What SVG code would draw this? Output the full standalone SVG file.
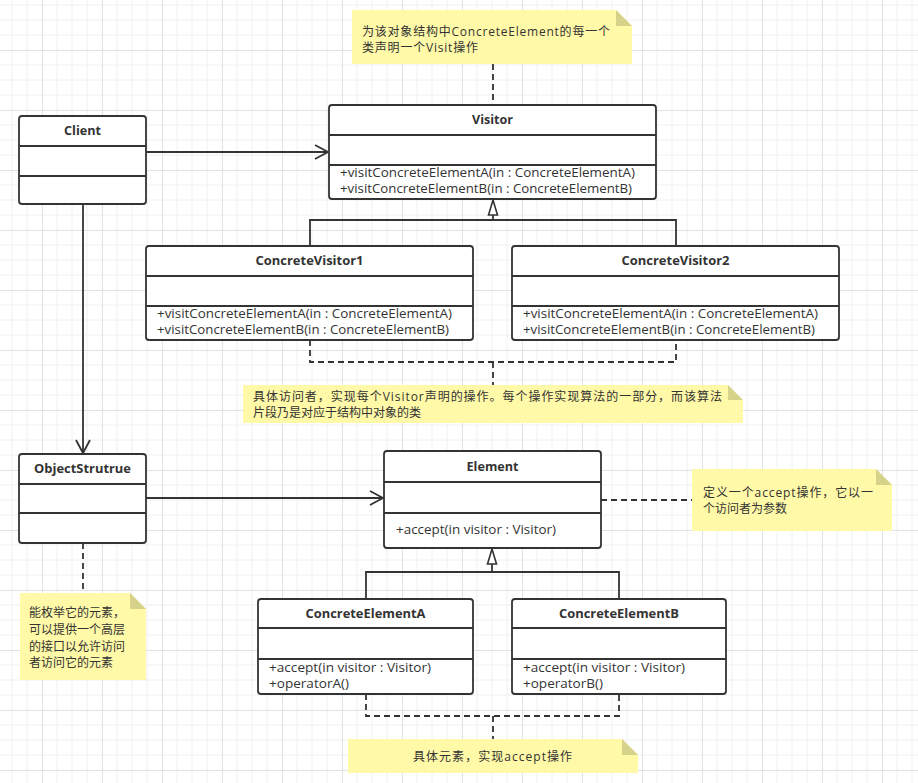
<svg xmlns="http://www.w3.org/2000/svg" width="918" height="783" viewBox="0 0 918 783">
<defs>
<pattern id="grid" x="42" y="50" width="60" height="60" patternUnits="userSpaceOnUse">
<path d="M15 0V60M30 0V60M45 0V60M0 15H60M0 30H60M0 45H60" stroke="#f0f0f0" stroke-width="1" fill="none"/>
<path d="M0.5 0V60M0 0.5H60" stroke="#e2e2e2" stroke-width="1" fill="none"/>
</pattern>
<marker id="open" markerUnits="userSpaceOnUse" markerWidth="16" markerHeight="16" viewBox="0 0 16 16" refX="14" refY="8" orient="auto">
<path d="M1 1L14 8L1 15" fill="none" stroke="#333" stroke-width="1.8"/>
</marker>
<marker id="tri" markerUnits="userSpaceOnUse" markerWidth="18" markerHeight="12" viewBox="0 0 18 12" refX="16" refY="6" orient="auto">
<path d="M1 1.5L16 6L1 10.5Z" fill="#fff" stroke="#333" stroke-width="1.6"/>
</marker>
</defs>
<style>
.box{fill:#fff;stroke:#333;stroke-width:1.8}
.div{stroke:#333;stroke-width:1.8}
.t{font-family:"Open Sans","Noto Sans","Noto Sans CJK SC",sans-serif;font-size:12px;fill:#333}
.b{font-weight:bold;text-anchor:middle;font-size:13px}
.c{font-family:"Open Sans","Noto Sans","Noto Sans CJK SC",sans-serif;font-size:12px;fill:#333}
.note{fill:#fff9a8}
.fold{fill:#d6d28a}
.ln{fill:none;stroke:#333;stroke-width:1.8}
.dash{fill:none;stroke:#333;stroke-width:1.8;stroke-dasharray:6 4}
</style>
<rect width="918" height="783" fill="#fff"/>
<rect width="918" height="783" fill="url(#grid)"/>

<g id="connectors">
<path class="ln" d="M146 152H328" marker-end="url(#open)"/>
<path class="ln" d="M83 204V453" marker-end="url(#open)"/>
<path class="ln" d="M146 498H383" marker-end="url(#open)"/>
<path class="ln" d="M310 246V220H676V246"/>
<path class="ln" d="M493 220V200" marker-end="url(#tri)"/>
<path class="ln" d="M366 599V572H619V599"/>
<path class="ln" d="M492 572V549" marker-end="url(#tri)"/>
<path class="dash" d="M493 64V105"/>
<path class="dash" d="M310 340V362H676V340"/>
<path class="dash" d="M493 362V385"/>
<path class="dash" d="M601 500H692"/>
<path class="dash" d="M83 543V593"/>
<path class="dash" d="M366 694V716H619V694"/>
<path class="dash" d="M493 716V739"/>
</g>

<g id="Client">
<rect class="box" x="19" y="116" width="127" height="88" rx="3"/>
<path class="div" d="M19 146H146M19 176H146"/>
<text class="t b" x="82.5" y="135" textLength="37" lengthAdjust="spacingAndGlyphs">Client</text>
</g>

<g id="Visitor">
<rect class="box" x="329" y="105" width="327" height="94" rx="3"/>
<path class="div" d="M329 135H656M329 165H656"/>
<text class="t b" x="492.5" y="124" textLength="41" lengthAdjust="spacingAndGlyphs">Visitor</text>
<text class="t" x="340" y="177" textLength="295" lengthAdjust="spacingAndGlyphs">+visitConcreteElementA(in : ConcreteElementA)</text>
<text class="t" x="340" y="193" textLength="292" lengthAdjust="spacingAndGlyphs">+visitConcreteElementB(in : ConcreteElementB)</text>
</g>

<g id="ConcreteVisitor1">
<rect class="box" x="146" y="246" width="327" height="94" rx="3"/>
<path class="div" d="M146 276H473M146 306H473"/>
<text class="t b" x="309.5" y="265" textLength="108" lengthAdjust="spacingAndGlyphs">ConcreteVisitor1</text>
<text class="t" x="157" y="318" textLength="295" lengthAdjust="spacingAndGlyphs">+visitConcreteElementA(in : ConcreteElementA)</text>
<text class="t" x="157" y="334" textLength="292" lengthAdjust="spacingAndGlyphs">+visitConcreteElementB(in : ConcreteElementB)</text>
</g>

<g id="ConcreteVisitor2">
<rect class="box" x="512" y="246" width="327" height="94" rx="3"/>
<path class="div" d="M512 276H839M512 306H839"/>
<text class="t b" x="675.5" y="265" textLength="108" lengthAdjust="spacingAndGlyphs">ConcreteVisitor2</text>
<text class="t" x="523" y="318" textLength="295" lengthAdjust="spacingAndGlyphs">+visitConcreteElementA(in : ConcreteElementA)</text>
<text class="t" x="523" y="334" textLength="292" lengthAdjust="spacingAndGlyphs">+visitConcreteElementB(in : ConcreteElementB)</text>
</g>

<g id="ObjectStrutrue">
<rect class="box" x="19" y="454" width="127" height="89" rx="3"/>
<path class="div" d="M19 484H146M19 513H146"/>
<text class="t b" x="82.5" y="473" textLength="97" lengthAdjust="spacingAndGlyphs">ObjectStrutrue</text>
</g>

<g id="Element">
<rect class="box" x="384" y="451" width="217" height="97" rx="3"/>
<path class="div" d="M384 482H601M384 513H601"/>
<text class="t b" x="492.5" y="471" textLength="52" lengthAdjust="spacingAndGlyphs">Element</text>
<text class="t" x="396" y="534" textLength="160" lengthAdjust="spacingAndGlyphs">+accept(in visitor : Visitor)</text>
</g>

<g id="ConcreteElementA">
<rect class="box" x="258" y="599" width="215" height="95" rx="3"/>
<path class="div" d="M258 628H473M258 659H473"/>
<text class="t b" x="365.5" y="618" textLength="120" lengthAdjust="spacingAndGlyphs">ConcreteElementA</text>
<text class="t" x="269" y="672" textLength="162" lengthAdjust="spacingAndGlyphs">+accept(in visitor : Visitor)</text>
<text class="t" x="269" y="688" textLength="80" lengthAdjust="spacingAndGlyphs">+operatorA()</text>
</g>

<g id="ConcreteElementB">
<rect class="box" x="512" y="599" width="214" height="95" rx="3"/>
<path class="div" d="M512 628H726M512 659H726"/>
<text class="t b" x="619" y="618" textLength="120" lengthAdjust="spacingAndGlyphs">ConcreteElementB</text>
<text class="t" x="523" y="672" textLength="162" lengthAdjust="spacingAndGlyphs">+accept(in visitor : Visitor)</text>
<text class="t" x="523" y="688" textLength="80" lengthAdjust="spacingAndGlyphs">+operatorB()</text>
</g>

<g id="note1">
<path class="note" d="M352 10H616L632 26V64H352Z"/>
<path class="fold" d="M616 10L632 26H616Z"/>
<text class="c" x="362" y="36" textLength="248">为该对象结构中ConcreteElement的每一个</text>
<text class="c" x="362" y="52" textLength="116">类声明一个Visit操作</text>
</g>

<g id="note2">
<path class="note" d="M243 385H728L743 400V423H243Z"/>
<path class="fold" d="M728 385L743 400H728Z"/>
<text class="c" x="253" y="401" textLength="469">具体访问者，实现每个Visitor声明的操作。每个操作实现算法的一部分，而该算法</text>
<text class="c" x="253" y="417">片段乃是对应于结构中对象的类</text>
</g>

<g id="note3">
<path class="note" d="M692 469H876L892 485V531H692Z"/>
<path class="fold" d="M876 469L892 485H876Z"/>
<text class="c" x="703" y="497" textLength="170">定义一个accept操作，它以一</text>
<text class="c" x="703" y="513">个访问者为参数</text>
</g>

<g id="note4">
<path class="note" d="M20 593H130L146 609V680H20Z"/>
<path class="fold" d="M130 593L146 609H130Z"/>
<text class="c" x="29" y="617">能枚举它的元素，</text>
<text class="c" x="29" y="634">可以提供一个高层</text>
<text class="c" x="29" y="651">的接口以允许访问</text>
<text class="c" x="29" y="667">者访问它的元素</text>
</g>

<g id="note5">
<path class="note" d="M348 739H622L638 755V773H348Z"/>
<path class="fold" d="M622 739L638 755H622Z"/>
<text class="c" x="413" y="761" textLength="159">具体元素，实现accept操作</text>
</g>
</svg>
